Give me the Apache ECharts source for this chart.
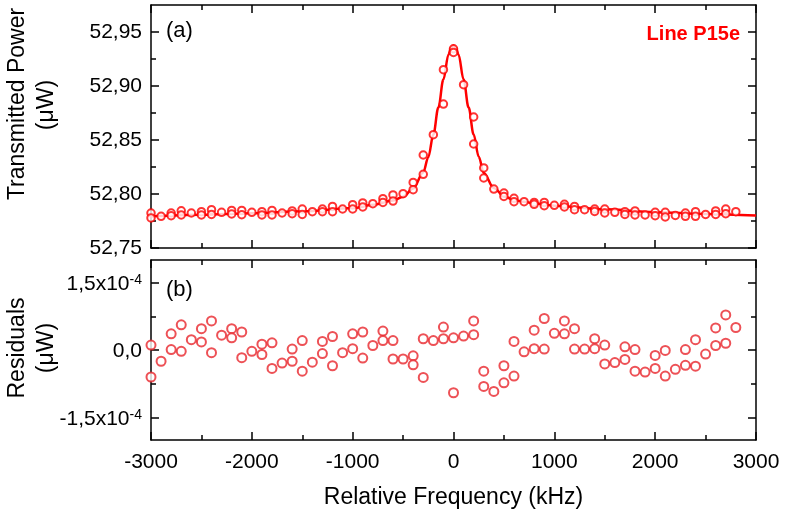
<!DOCTYPE html>
<html><head><meta charset="utf-8">
<script src="https://cdn.jsdelivr.net/npm/echarts@6/dist/echarts.min.js"></script>
<style>html,body{margin:0;padding:0;background:#fff}#c{width:787px;height:521px}</style>
</head><body><div id="c"></div>
<script>
// Frequency grid (kHz)
const freqGrid = [-3000,-2900,-2800,-2700,-2600,-2500,-2400,-2300,-2200,-2100,-2000,-1900,-1800,-1700,-1600,-1500,-1400,-1300,-1200,-1100,-1000,-900,-800,-700,-600,-500,-400,-300,-200,-100,0,100,200,300,400,500,600,700,800,900,1000,1100,1200,1300,1400,1500,1600,1700,1800,1900,2000,2100,2200,2300,2400,2500,2600,2700,2800];
// Transmitted power, scan A and scan B (µW)
const topA = [52.7824,52.7793,52.7824,52.7845,52.7824,52.7836,52.7855,52.7830,52.7848,52.7848,52.7830,52.7836,52.7848,52.7824,52.7843,52.7861,52.7836,52.7861,52.7885,52.7861,52.7901,52.7917,52.7910,52.7957,52.7991,52.8003,52.8107,52.8361,52.8549,52.9151,52.9345,52.9012,52.8713,52.8241,52.8046,52.8009,52.7960,52.7929,52.7922,52.7922,52.7895,52.7904,52.7885,52.7855,52.7861,52.7861,52.7830,52.7836,52.7843,52.7806,52.7830,52.7830,52.7802,52.7824,52.7836,52.7811,52.7843,52.7861,52.7836];
const topB = [52.7778,null,52.7799,52.7806,null,52.7806,52.7811,null,52.7815,52.7808,null,52.7806,52.7806,null,52.7818,52.7811,null,52.7836,52.7836,null,52.7861,52.7880,null,52.7922,52.7935,null,52.8040,52.8182,null,52.8833,52.9311,null,52.8463,52.8148,null,52.7978,52.7929,null,52.7904,52.7892,null,52.7880,52.7855,null,52.7839,52.7824,null,52.7811,52.7806,null,52.7799,52.7787,null,52.7793,52.7793,null,52.7811,52.7818,null];
// Fitted curve
const fitFreq = [-3000,-2500,-2000,-1500,-1000,-800,-600,-500,-400,-300,-250,-200,-150,-100,-50,-25,0,25,50,100,150,200,250,300,400,500,600,700,800,1000,1500,2000,2500,3000];
const fitPower = [52.7793,52.7808,52.7821,52.7840,52.7870,52.7900,52.7940,52.7975,52.8050,52.8200,52.8340,52.8550,52.8800,52.9060,52.9290,52.9355,52.9376,52.9355,52.9290,52.9060,52.8800,52.8550,52.8345,52.8195,52.8056,52.7980,52.7945,52.7928,52.7912,52.7892,52.7858,52.7832,52.7815,52.7800];
// Residuals, scan A and scan B (units of 1e-4 µW)
const resA = [0.11,-0.25,0.36,0.56,0.23,0.475,0.645,0.33,0.475,0.40,-0.03,0.13,0.16,-0.29,0.02,0.21,-0.27,0.19,0.30,-0.06,0.36,0.40,0.10,0.42,0.21,-0.20,-0.13,0.25,0.21,0.51,0.27,0.31,0.645,-0.47,-0.92,-0.35,0.19,-0.04,0.44,0.70,0.37,0.645,0.475,0.02,0.25,0.11,-0.28,0.07,0.01,-0.49,-0.12,-0.01,-0.43,0.01,0.23,-0.09,0.49,0.78,0.50];
const resB = [-0.60,null,0.01,-0.03,null,0.18,-0.06,null,0.27,-0.17,null,-0.10,-0.41,null,-0.25,-0.47,null,-0.08,-0.35,null,0.03,-0.18,null,0.21,-0.20,null,-0.33,-0.61,null,0.25,-0.95,null,0.34,-0.81,null,-0.73,-0.58,null,0.03,0.02,null,0.36,0.02,null,0.03,-0.31,null,-0.21,-0.47,null,-0.41,-0.58,null,-0.34,-0.36,null,0.10,0.15,null];
// Axis ticks
const topMajor = [52.75,52.80,52.85,52.90,52.95];
const topMinor = [52.775,52.825,52.875,52.925];
const resMajor = [-1.5,0,1.5];
const resMinor = [-0.75,0.75];

const FONT = '"Liberation Sans", Arial, sans-serif';
const RED = '#ff0000';
const RED2 = '#e8262c';

function pairs(xs, ys){ const o=[]; xs.forEach((x,i)=>{ if(ys[i]!==null) o.push([x,ys[i]]); }); return o; }
const lineS = {color:'#000', width:1.5};

function xAx(grid, pos, labels){
  return {type:'value', gridIndex:grid, position:pos, min:-3000, max:3000, interval:1000,
    axisLine:{show:true, onZero:false, lineStyle:lineS},
    axisTick:{show:true, inside:true, length:8, lineStyle:lineS},
    minorTick:{show:true, splitNumber:2, length:5, lineStyle:lineS},
    splitLine:{show:false}, minorSplitLine:{show:false},
    axisLabel:{show:labels, formatter:v=>String(v), fontFamily:FONT, fontSize:21, color:'#000', margin:12},
    name: labels ? 'Relative Frequency (kHz)' : '', nameLocation:'middle', nameGap:46,
    nameTextStyle:{fontFamily:FONT, fontSize:23, color:'#000'}};
}
function yMaj(grid, pos, min, max, ticks, labels, fmt, rich){
  return {type:'value', gridIndex:grid, position:pos, min:min, max:max,
    axisLine:{show:true, onZero:false, lineStyle:lineS},
    axisTick:{show:true, inside:true, length:8, lineStyle:lineS, customValues:ticks},
    splitLine:{show:false},
    axisLabel:{show:labels, customValues:ticks, formatter:fmt, rich:rich, fontFamily:FONT, fontSize:21, color:'#000', margin:9}};
}
function yMin(grid, pos, min, max, ticks){
  return {type:'value', gridIndex:grid, position:pos, min:min, max:max, offset:0,
    axisLine:{show:false, onZero:false},
    axisTick:{show:true, inside:true, length:5, lineStyle:lineS, customValues:ticks},
    splitLine:{show:false}, axisLabel:{show:false}};
}
const resRich = {b:{fontFamily:FONT, fontSize:21, color:'#000', lineHeight:24, verticalAlign:'bottom'},
                 sup:{fontFamily:FONT, fontSize:14, color:'#000', lineHeight:14, verticalAlign:'top', padding:[3,0,0,0]}};
function resFmt(v){
  if (Math.abs(v) < 1e-9) return '{b|0,0}';
  const s = (v<0?'-':'') + String(Math.abs(v)).replace('.',',') + 'x10';
  return '{b|' + s + '}{sup|-4}';
}

const chart = echarts.init(document.getElementById('c'), null, {renderer:'canvas'});
chart.setOption({
  animation:false,
  backgroundColor:'#fff',
  grid:[{left:151, right:31, top:5, height:243}, {left:151, right:31, top:260, height:180}],
  xAxis:[xAx(0,'bottom',false), xAx(0,'top',false), xAx(1,'bottom',true), xAx(1,'top',false)],
  yAxis:[
    yMaj(0,'left',52.75,52.975,topMajor,true,v=>v.toFixed(2).replace('.',',')),
    yMaj(0,'right',52.75,52.975,topMajor,false),
    yMin(0,'left',52.75,52.975,topMinor),
    yMin(0,'right',52.75,52.975,topMinor),
    yMaj(1,'left',-2,2,resMajor,true,resFmt,resRich),
    yMaj(1,'right',-2,2,resMajor,false),
    yMin(1,'left',-2,2,resMinor),
    yMin(1,'right',-2,2,resMinor)
  ],
  series:[
    {type:'line', xAxisIndex:0, yAxisIndex:0, data:pairs(fitFreq,fitPower), smooth:0.35, smoothMonotone:'x', showSymbol:false, symbol:'none',
      lineStyle:{color:RED, width:2.5}, z:2},
    {type:'scatter', xAxisIndex:0, yAxisIndex:0, data:pairs(freqGrid,topA), symbol:'emptyCircle', symbolSize:7.5,
      itemStyle:{color:RED, borderColor:RED, borderWidth:1.8}, z:3},
    {type:'scatter', xAxisIndex:0, yAxisIndex:0, data:pairs(freqGrid,topB), symbol:'emptyCircle', symbolSize:7.5,
      itemStyle:{color:RED, borderColor:RED, borderWidth:1.8}, z:3},
    {type:'scatter', xAxisIndex:2, yAxisIndex:4, data:pairs(freqGrid,resA), symbol:'emptyCircle', symbolSize:9,
      itemStyle:{color:RED2, borderColor:RED2, borderWidth:1.2}, z:3},
    {type:'scatter', xAxisIndex:2, yAxisIndex:4, data:pairs(freqGrid,resB), symbol:'emptyCircle', symbolSize:9,
      itemStyle:{color:RED2, borderColor:RED2, borderWidth:1.2}, z:3}
  ],
  graphic:[
    {type:'text', x:18, y:104, rotation:Math.PI/2, style:{text:'Transmitted Power', font:'23px '+FONT, fill:'#000', align:'center', verticalAlign:'middle'}},
    {type:'text', x:47, y:105, rotation:Math.PI/2, style:{text:'(μW)', font:'23px '+FONT, fill:'#000', align:'center', verticalAlign:'middle'}},
    {type:'text', x:18, y:348, rotation:Math.PI/2, style:{text:'Residuals', font:'23px '+FONT, fill:'#000', align:'center', verticalAlign:'middle'}},
    {type:'text', x:47, y:348, rotation:Math.PI/2, style:{text:'(μW)', font:'23px '+FONT, fill:'#000', align:'center', verticalAlign:'middle'}},
    {type:'text', x:166, y:31, style:{text:'(a)', font:'22px '+FONT, fill:'#000', align:'left', verticalAlign:'middle'}},
    {type:'text', x:166, y:290, style:{text:'(b)', font:'22px '+FONT, fill:'#000', align:'left', verticalAlign:'middle'}},
    {type:'text', x:740, y:34, style:{text:'Line P15e', font:'bold 20px '+FONT, fill:RED, align:'right', verticalAlign:'middle'}}
  ]
});
</script></body></html>
